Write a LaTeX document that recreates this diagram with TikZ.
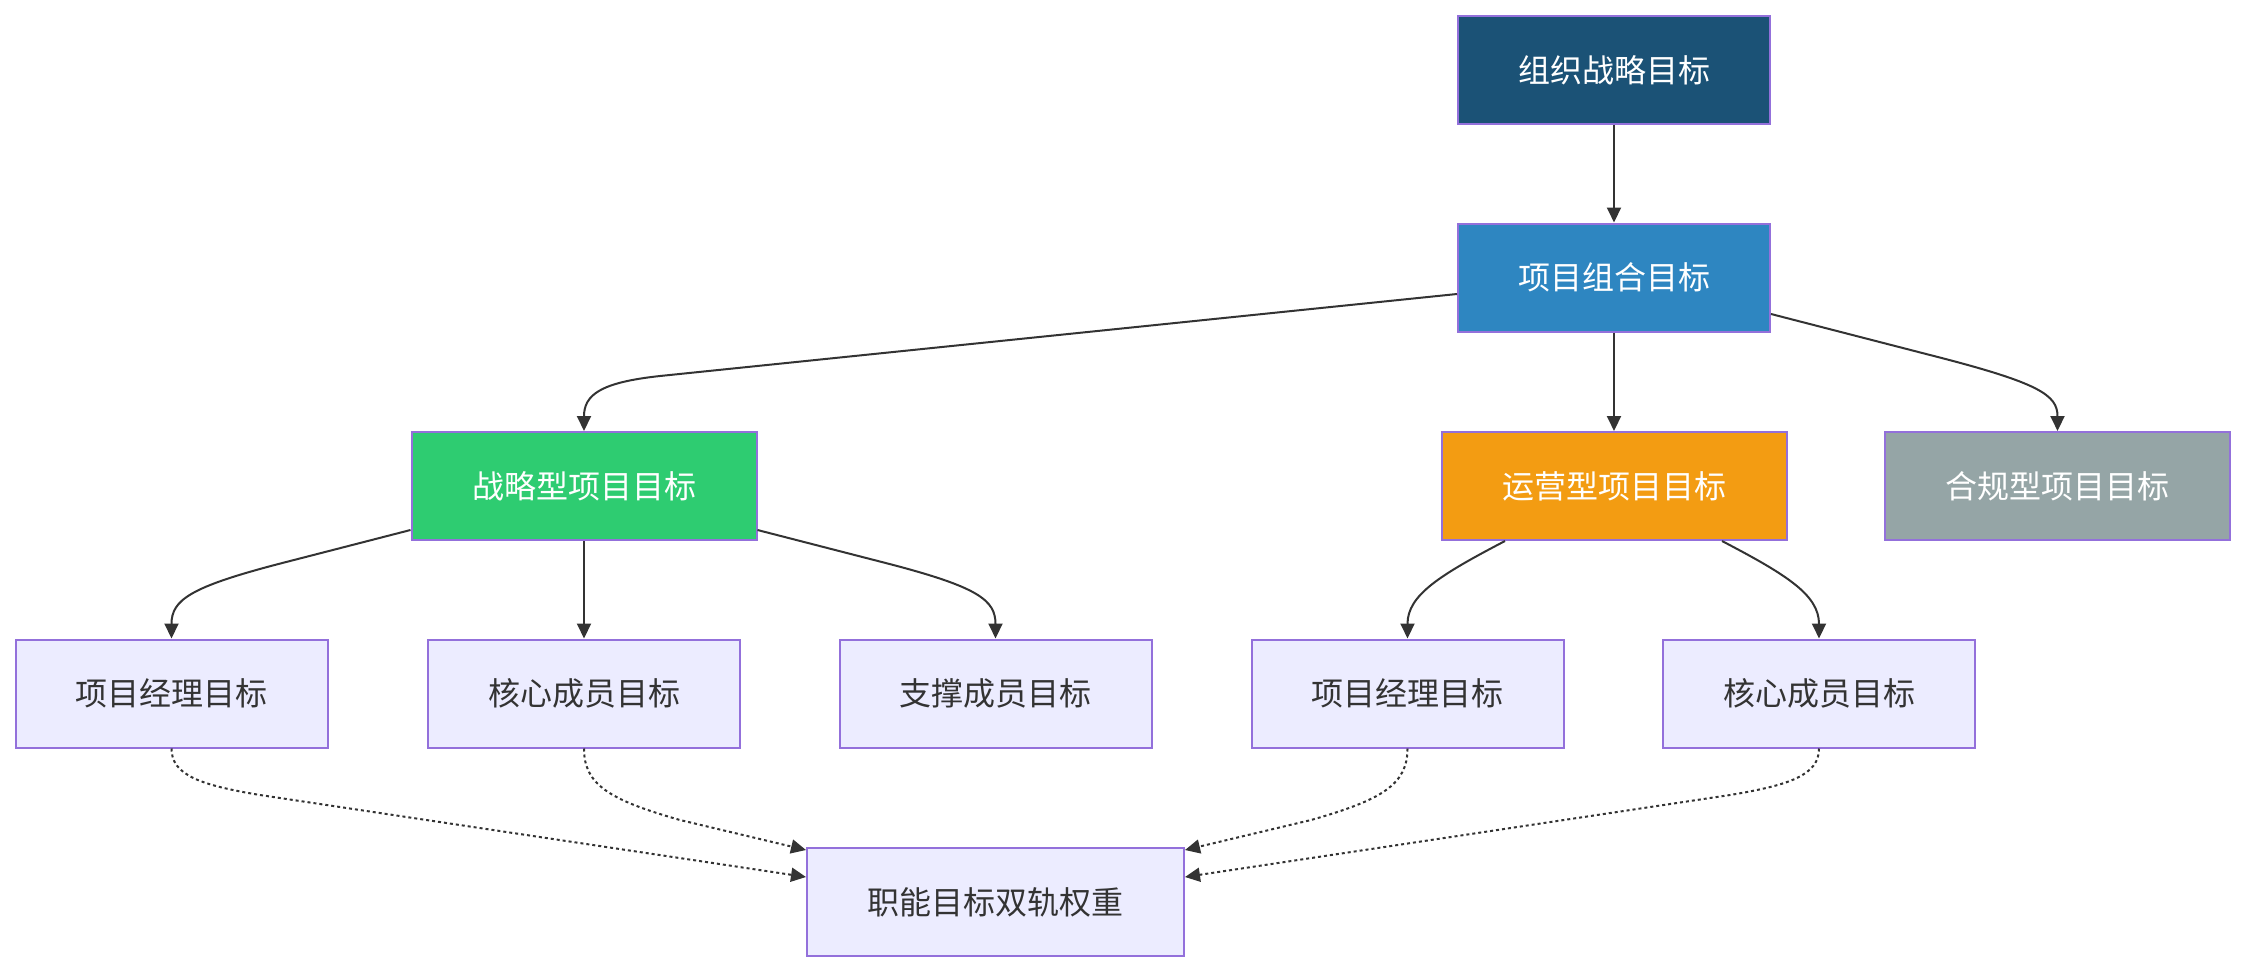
\documentclass[tikz,border=0pt]{standalone}
\usepackage{fontspec}
\setmainfont{Noto Sans CJK SC}
\usetikzlibrary{arrows.meta,calc}
\definecolor{cOrg}{HTML}{1B5276}
\definecolor{cPz}{HTML}{2E86C1}
\definecolor{cZl}{HTML}{2ECC71}
\definecolor{cYy}{HTML}{F39C12}
\definecolor{cHg}{HTML}{95A5A6}
\definecolor{cFill}{HTML}{ECECFF}
\definecolor{cBorder}{HTML}{9370DB}
\definecolor{cLine}{HTML}{333333}
\tikzset{
  box/.style={draw=cBorder, line width=2pt, fill=cFill, text=cLine, inner sep=0pt,
    minimum width=312pt, minimum height=108pt, font=\fontsize{32}{38}\selectfont},
  wbox/.style={box, text=white, minimum width=345pt},
  edge/.style={draw=cLine, line width=2pt, -{Triangle[length=15pt,width=14pt]}},
  dedge/.style={edge, dash pattern=on 3pt off 3pt},
}
\begin{document}
\begin{tikzpicture}[x=1pt,y=-1pt]
\useasboundingbox (0,0) rectangle (2246,972);
\node[box, text=white, fill=cOrg] (org) at (1614,70) {组织战略目标};
\node[box, text=white, fill=cPz] (pz) at (1614,277.5) {项目组合目标};
\node[wbox, fill=cZl] (zl) at (584,486) {战略型项目目标};
\node[wbox, fill=cYy] (yy) at (1614,486) {运营型项目目标};
\node[wbox, fill=cHg] (hg) at (2057.5,486) {合规型项目目标};
\node[box] (a1) at (171.5,693.5) {项目经理目标};
\node[box] (a2) at (584,693.5) {核心成员目标};
\node[box] (a3) at (995.5,693.5) {支撑成员目标};
\node[box] (a4) at (1407.5,693.5) {项目经理目标};
\node[box] (a5) at (1819,693.5) {核心成员目标};
\node[box, minimum width=377pt] (fw) at (995.5,902) {职能目标双轨权重};

\draw[edge] (org.south) -- (pz.north);
\draw[edge] (pz.south) -- (yy.north);
\draw[edge] (zl.south) -- (a2.north);
\draw[edge] ($(pz.west)+(0,16.5)$) -- (660,376) .. controls (600,382.5) and (584,395) .. (zl.north);
\draw[edge] ($(pz.east)+(0,36.5)$) -- (1930,355) .. controls (2040,383) and (2057.5,395) .. (hg.north);
\draw[edge] ($(zl.west)+(0,44)$) -- (280,563.6) .. controls (190,587) and (171.5,600) .. (a1.north);
\draw[edge] ($(zl.east)+(0,44)$) -- (888,563.6) .. controls (978,587) and (995.5,600) .. (a3.north);
\draw[edge] ($(yy.south)+(-109,0)$) .. controls (1440,575) and (1407.5,595) .. (a4.north);
\draw[edge] ($(yy.south)+(108,0)$) .. controls (1787,575) and (1819,595) .. (a5.north);

\draw[dedge] (a1.south) .. controls (171.5,775) and (200,785) .. (260,795) -- ($(fw.west)+(0,-25)$);
\draw[dedge] (a2.south) .. controls (584,785) and (610,800) .. (680,820) -- ($(fw.north west)+(0,3)$);
\draw[dedge] (a4.south) .. controls (1407.5,785) and (1381,800) .. (1311,820) -- ($(fw.north east)+(0,3)$);
\draw[dedge] (a5.south) .. controls (1819,775) and (1790,785) .. (1730,795) -- ($(fw.east)+(0,-25)$);
\end{tikzpicture}
\end{document}
